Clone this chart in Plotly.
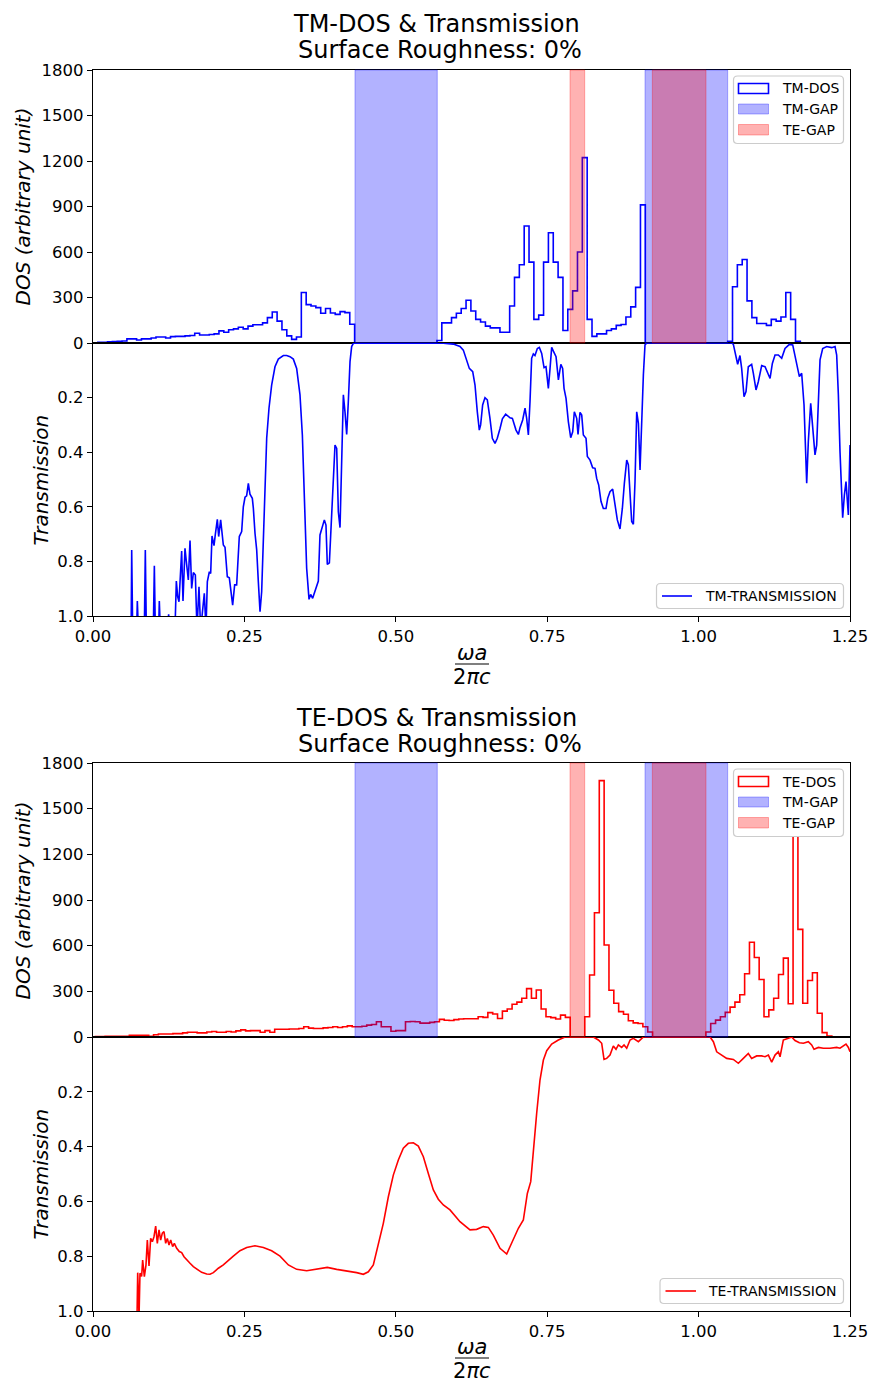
import numpy as np
import plotly.graph_objects as go

# ---------------- data ----------------
BIN_W = 0.008
TM_DOS_FIRST_EDGE = 0.008
TE_DOS_FIRST_EDGE = 0.004

TM_DOS = [5, 5, 8, 10, 12, 13, 27, 27, 20, 27,
          27, 33, 40, 40, 33, 42, 44, 44, 47, 49,
          64, 53, 53, 56, 60, 80, 71, 87, 93, 104,
          93, 111, 120, 120, 133, 167, 204, 144, 87, 47,
          24, 40, 333, 253, 244, 233, 196, 227, 198, 189,
          207, 200, 124,
          0, 0, 0, 0, 0, 0, 0, 0, 0, 0, 0, 0, 0, 0, 0, 0, 0,
          16, 133, 133, 167, 196, 227, 282, 211, 156, 138,
          111, 100, 100, 71, 71, 244, 433, 516, 771, 533,
          156, 184, 533, 727, 533, 433, 82, 222, 344, 600,
          1222, 156, 44, 60, 60, 82, 93, 116, 122, 171,
          238, 367, 911,
          0, 0, 0, 0, 0, 0, 0, 0, 0, 0, 0, 0, 0, 0, 0, 0, 0,
          11, 371, 516, 551, 278, 167, 129, 129, 116, 156,
          144, 171, 333, 156, 11]

TE_DOS = [3, 3, 4, 4, 5, 5, 5, 11, 11, 11,
          11, 5, 15, 20, 20, 20, 22, 22, 27, 31,
          31, 27, 27, 33, 36, 31, 31, 36, 33, 40,
          47, 40, 42, 42, 31, 42, 31, 51, 51, 51,
          53, 53, 56, 67, 58, 56, 56, 60, 62, 67,
          62, 67, 73, 67, 67, 71, 78, 82, 100, 67,
          67, 38, 42, 42, 100, 102, 100, 91, 91, 96,
          100, 116, 110, 108, 114, 118, 120, 120, 120, 133,
          129, 160, 151, 122, 170, 184, 215, 229, 255, 318,
          255, 309, 184, 133, 127, 118, 144, 129, 0, 0,
          0, 133, 407, 816, 1684, 604, 307, 222, 167, 149,
          107, 93, 89, 67, 33, 0, 0, 0, 0, 0,
          0, 0, 0, 0, 0, 0, 33, 89, 111, 133,
          162, 196, 229, 278, 416, 622, 522, 378, 133, 178,
          255, 411, 518, 218, 1650, 707, 222, 371, 422, 156,
          29, 7]

TM_GAPS = [(0.4326, 0.5685), (0.9115, 1.048)]
TE_GAPS = [(0.7877, 0.8119), (0.9236, 1.0122)]

TM_T_FREQ = [0.010, 0.0630, 0.0639, 0.0655, 0.0721, 0.0732, 0.0749, 0.0848, 0.0864, 0.0881,
             0.0996, 0.1013, 0.1029, 0.1084, 0.1095, 0.1112, 0.1227, 0.1249, 0.1271, 0.1354,
             0.1376, 0.1398, 0.1420, 0.1442, 0.1464, 0.1486, 0.1519, 0.1547, 0.1574, 0.1602,
             0.1629, 0.1657, 0.1690, 0.1717, 0.1750, 0.1778, 0.1838, 0.1866, 0.1888, 0.1921,
             0.1943, 0.1965, 0.1998, 0.2020, 0.2053, 0.2075, 0.2108, 0.2152, 0.2180, 0.2218,
             0.2251, 0.2306, 0.2339, 0.2372, 0.2416, 0.2455, 0.2482, 0.2510, 0.2537, 0.2565,
             0.2592, 0.2631, 0.2648, 0.2675, 0.2703, 0.2730, 0.2758, 0.2785, 0.2813, 0.2840,
             0.2868, 0.2906, 0.2950, 0.3005, 0.3060, 0.3143, 0.3198, 0.3253, 0.3308, 0.3363,
             0.3418, 0.3457, 0.3490, 0.3528, 0.3567, 0.3594, 0.3627, 0.3666, 0.3693, 0.3721,
             0.3748, 0.3787, 0.3820, 0.3847, 0.3869, 0.3903, 0.3941, 0.3969, 0.3996, 0.4024,
             0.4051, 0.4079, 0.4106, 0.4134, 0.4161, 0.4189, 0.4216, 0.4244, 0.4271, 0.4299,
             0.4500, 0.5000, 0.5500, 0.5785, 0.5950, 0.6060, 0.6115, 0.6170, 0.6214, 0.6270,
             0.6308, 0.6346, 0.6379, 0.6401, 0.6434, 0.6473, 0.6511, 0.6555, 0.6594, 0.6638,
             0.6676, 0.6721, 0.6760, 0.6814, 0.6886, 0.6925, 0.6952, 0.6985, 0.7024, 0.7051,
             0.7095, 0.7134, 0.7161, 0.7189, 0.7216, 0.7243, 0.7271, 0.7298, 0.7337, 0.7370,
             0.7409, 0.7448, 0.7480, 0.7519, 0.7547, 0.7574, 0.7602, 0.7646, 0.7685, 0.7725,
             0.7755, 0.7778, 0.7811, 0.7849, 0.7888, 0.7921, 0.7948, 0.7987, 0.8009, 0.8042,
             0.8070, 0.8097, 0.8141, 0.8163, 0.8207, 0.8251, 0.8290, 0.8317, 0.8350, 0.8389,
             0.8427, 0.8471, 0.8499, 0.8537, 0.8581, 0.8620, 0.8658, 0.8702, 0.8741, 0.8774,
             0.8813, 0.8840, 0.8868, 0.8895, 0.8923, 0.8950, 0.8978, 0.9006, 0.9033, 0.9060,
             0.9088, 0.9115, 0.9143, 1.0000, 1.0491, 1.0546, 1.0574, 1.0601, 1.0645, 1.0683,
             1.0711, 1.0750, 1.0783, 1.0821, 1.0876, 1.0904, 1.0948, 1.0986, 1.1042, 1.1097,
             1.1152, 1.1180, 1.1218, 1.1262, 1.1317, 1.1372, 1.1427, 1.1499, 1.1554, 1.1609,
             1.1664, 1.1702, 1.1741, 1.1785, 1.1812, 1.1851, 1.1884, 1.1922, 1.1950, 1.1977,
             1.2005, 1.2049, 1.2115, 1.2198, 1.2253, 1.2280, 1.2308, 1.2335, 1.2379, 1.2407,
             1.2434, 1.2473, 1.2500]
TM_T_VAL = [1.05, 1.05, 0.758, 1.05, 1.05, 0.945, 1.05, 1.05, 0.758, 1.05,
            1.05, 0.816, 1.05, 1.05, 0.945, 1.05, 1.05, 0.994, 1.05, 1.05,
            0.872, 0.929, 0.948, 0.825, 0.762, 0.945, 0.752, 0.813, 0.868, 0.724,
            0.899, 0.841, 0.850, 1.05, 0.893, 1.05, 0.917, 1.05, 0.874, 0.838,
            0.844, 0.707, 0.742, 0.701, 0.646, 0.709, 0.648, 0.740, 0.748, 0.856,
            0.860, 0.960, 0.886, 0.886, 0.709, 0.691, 0.600, 0.565, 0.560, 0.514,
            0.554, 0.569, 0.606, 0.697, 0.758, 0.874, 0.984, 0.911, 0.703, 0.496,
            0.349, 0.239, 0.154, 0.087, 0.059, 0.046, 0.046, 0.050, 0.059, 0.093,
            0.190, 0.337, 0.581, 0.825, 0.939, 0.921, 0.935, 0.905, 0.884, 0.872,
            0.703, 0.667, 0.648, 0.667, 0.811, 0.805, 0.606, 0.484, 0.374, 0.386,
            0.618, 0.676, 0.459, 0.190, 0.252, 0.335, 0.215, 0.068, 0.013, 0.001,
            0.000, 0.000, 0.0005, 0.001, 0.004, 0.013, 0.026, 0.062, 0.093, 0.105,
            0.154, 0.252, 0.319, 0.300, 0.227, 0.200, 0.208, 0.276, 0.349, 0.368,
            0.349, 0.313, 0.278, 0.261, 0.274, 0.276, 0.300, 0.319, 0.335, 0.310,
            0.282, 0.239, 0.276, 0.337, 0.215, 0.056, 0.040, 0.046, 0.020, 0.016,
            0.038, 0.090, 0.087, 0.166, 0.093, 0.016, 0.030, 0.050, 0.135, 0.078,
            0.093, 0.166, 0.203, 0.288, 0.347, 0.325, 0.252, 0.276, 0.335, 0.254,
            0.264, 0.337, 0.349, 0.416, 0.429, 0.457, 0.459, 0.496, 0.520, 0.581,
            0.606, 0.606, 0.569, 0.545, 0.535, 0.593, 0.648, 0.681, 0.606, 0.514,
            0.429, 0.446, 0.557, 0.654, 0.664, 0.508, 0.252, 0.294, 0.465, 0.276,
            0.117, 0.007, 0.000, 0.000, 0.000, 0.000, 0.005, 0.038, 0.078, 0.046,
            0.093, 0.197, 0.178, 0.087, 0.078, 0.111, 0.172, 0.142, 0.083, 0.087,
            0.117, 0.130, 0.075, 0.044, 0.044, 0.056, 0.020, 0.005, 0.007, 0.068,
            0.123, 0.111, 0.227, 0.514, 0.361, 0.221, 0.325, 0.410, 0.374, 0.227,
            0.062, 0.020, 0.013, 0.017, 0.013, 0.044, 0.190, 0.398, 0.640, 0.557,
            0.508, 0.630, 0.374]

TE_T_FREQ = [0.0725, 0.0738, 0.0760, 0.0776, 0.0803, 0.0820, 0.0848, 0.0875, 0.0897, 0.0925,
             0.0952, 0.0980, 0.1007, 0.1035, 0.1062, 0.1090, 0.1117, 0.1145, 0.1172, 0.1200,
             0.1227, 0.1255, 0.1283, 0.1315, 0.1343, 0.1382, 0.1425, 0.1464, 0.1503, 0.1547,
             0.1602, 0.1657, 0.1712, 0.1794, 0.1877, 0.1932, 0.1987, 0.2070, 0.2152, 0.2235,
             0.2317, 0.2427, 0.2538, 0.2675, 0.2813, 0.2950, 0.3088, 0.3226, 0.3363, 0.3528,
             0.3693, 0.3869, 0.4024, 0.4189, 0.4354, 0.4464, 0.4547, 0.4629, 0.4712, 0.4794,
             0.4877, 0.4959, 0.5042, 0.5124, 0.5207, 0.5290, 0.5372, 0.5455, 0.5537, 0.5620,
             0.5702, 0.5785, 0.5895, 0.6060, 0.6225, 0.6335, 0.6445, 0.6528, 0.6610, 0.6721,
             0.6831, 0.6914, 0.7024, 0.7106, 0.7172, 0.7228, 0.7271, 0.7326, 0.7381, 0.7437,
             0.7492, 0.7574, 0.7684, 0.7794, 0.8262, 0.8345, 0.8400, 0.8438, 0.8482, 0.8537,
             0.8592, 0.8636, 0.8675, 0.8730, 0.8769, 0.8813, 0.8868, 0.8923, 0.9006, 0.9088,
             1.0189, 1.0244, 1.0299, 1.0381, 1.0464, 1.0574, 1.0656, 1.0739, 1.0821, 1.0876,
             1.0959, 1.1042, 1.1097, 1.1152, 1.1207, 1.1262, 1.1317, 1.1345, 1.1399, 1.1482,
             1.1537, 1.1592, 1.1664, 1.1730, 1.1812, 1.1867, 1.1906, 1.1978, 1.2060, 1.2170,
             1.2280, 1.2335, 1.2390, 1.2434, 1.2473, 1.2500]
TE_T_VAL = [1.05, 0.860, 1.020, 0.862, 0.874, 0.814, 0.875, 0.832, 0.741, 0.836,
            0.735, 0.747, 0.729, 0.690, 0.753, 0.704, 0.741, 0.716, 0.710, 0.753,
            0.735, 0.759, 0.741, 0.765, 0.753, 0.771, 0.783, 0.787, 0.802, 0.814,
            0.826, 0.838, 0.847, 0.859, 0.865, 0.866, 0.860, 0.844, 0.832, 0.814,
            0.800, 0.780, 0.768, 0.762, 0.768, 0.780, 0.800, 0.832, 0.848, 0.853,
            0.847, 0.841, 0.848, 0.853, 0.860, 0.866, 0.857, 0.832, 0.753, 0.680,
            0.583, 0.504, 0.449, 0.406, 0.388, 0.386, 0.398, 0.437, 0.498, 0.558,
            0.592, 0.613, 0.631, 0.674, 0.704, 0.702, 0.692, 0.695, 0.723, 0.771,
            0.792, 0.753, 0.698, 0.668, 0.571, 0.528, 0.412, 0.279, 0.157, 0.084,
            0.050, 0.026, 0.011, 0.000, 0.000, 0.011, 0.023, 0.082, 0.078, 0.066,
            0.033, 0.045, 0.029, 0.038, 0.029, 0.041, 0.011, 0.005, 0.017, 0.000,
            0.000, 0.017, 0.054, 0.066, 0.078, 0.082, 0.096, 0.078, 0.060, 0.078,
            0.069, 0.069, 0.072, 0.066, 0.092, 0.066, 0.054, 0.072, 0.011, 0.005,
            0.000, 0.013, 0.021, 0.023, 0.017, 0.029, 0.045, 0.038, 0.041, 0.041,
            0.038, 0.041, 0.033, 0.026, 0.038, 0.054]

X_TICKS = [0.0, 0.25, 0.5, 0.75, 1.0, 1.25]
DOS_TICKS = [0, 300, 600, 900, 1200, 1500, 1800]
T_TICKS = [0.2, 0.4, 0.6, 0.8, 1.0]
T_TICK_TEXT = ["0.2", "0.4", "0.6", "0.8", "1.0"]

# ---------------- figure geometry ----------------
W, H = 873, 1383
ML, MR, MT, MB = 93, 23, 70, 72
PW, PH = W - ML - MR, H - MT - MB


def X(px):
    return (px - ML) / PW


def Y(py):
    return (H - MB - py) / PH


FONT = "DejaVu Sans"
BLUE = "#0000ff"
RED = "#ff0000"
TM_FILL = "rgba(0,0,255,0.3)"
TE_FILL = "rgba(255,0,0,0.3)"


def step_xy(first_edge, vals):
    edges = first_edge + BIN_W * np.arange(len(vals) + 1)
    xs = [edges[0]] + list(edges[:-1]) + [edges[-1], edges[-1]]
    ys = [0] + list(vals) + [vals[-1], 0]
    return xs, ys


fig = go.Figure()

tmx, tmy = step_xy(TM_DOS_FIRST_EDGE, TM_DOS)
tex, tey = step_xy(TE_DOS_FIRST_EDGE, TE_DOS)

fig.add_trace(go.Scatter(x=tmx, y=tmy, mode="lines", line=dict(color=BLUE, width=1.6, shape="hv"),
                         xaxis="x", yaxis="y", name="TM-DOS", showlegend=False))
fig.add_trace(go.Scatter(x=TM_T_FREQ, y=TM_T_VAL, mode="lines", line=dict(color=BLUE, width=1.6),
                         xaxis="x2", yaxis="y2", name="TM-TRANSMISSION", showlegend=False))
fig.add_trace(go.Scatter(x=tex, y=tey, mode="lines", line=dict(color=RED, width=1.6, shape="hv"),
                         xaxis="x3", yaxis="y3", name="TE-DOS", showlegend=False))
fig.add_trace(go.Scatter(x=TE_T_FREQ, y=TE_T_VAL, mode="lines", line=dict(color=RED, width=1.6),
                         xaxis="x4", yaxis="y4", name="TE-TRANSMISSION", showlegend=False))

# ---------------- axes ----------------
tickfont = dict(family=FONT, size=16.5, color="black")
base = dict(showline=True, linecolor="black", linewidth=1.2, mirror=True, showgrid=False,
            zeroline=False, ticks="outside", ticklen=5, tickwidth=1.1, tickcolor="black",
            tickfont=tickfont, automargin=False)

dom_top_dos = [Y(343), Y(70)]
dom_top_t = [Y(616), Y(343)]
dom_bot_dos = [Y(1037), Y(763)]
dom_bot_t = [0, Y(1037)]

layout_axes = {}
for i, (dd, dt) in enumerate([(dom_top_dos, dom_top_t), (dom_bot_dos, dom_bot_t)]):
    a = 2 * i + 1
    b = 2 * i + 2
    kx_a = "xaxis" if a == 1 else f"xaxis{a}"
    ky_a = "yaxis" if a == 1 else f"yaxis{a}"
    ya = "y" if a == 1 else f"y{a}"
    xa = "x" if a == 1 else f"x{a}"
    layout_axes[kx_a] = dict(base, domain=[0, 1], range=[0, 1.25], anchor=ya, ticks="",
                             showticklabels=False)
    layout_axes[ky_a] = dict(base, domain=dd, range=[0, 1800], anchor=xa, tickvals=DOS_TICKS)
    layout_axes[f"xaxis{b}"] = dict(base, domain=[0, 1], range=[0, 1.25], anchor=f"y{b}",
                                    tickvals=X_TICKS, tickformat=".2f")
    layout_axes[f"yaxis{b}"] = dict(base, domain=dt, range=[1, 0], anchor=f"x{b}",
                                    tickvals=T_TICKS, ticktext=T_TICK_TEXT)

fig.update_layout(**layout_axes)

# ---------------- gap bands ----------------
shapes = []
for xref, yref in [("x", "y domain"), ("x3", "y3 domain")]:
    for lo, hi in TM_GAPS:
        shapes.append(dict(type="rect", xref=xref, yref=yref, x0=lo, x1=hi, y0=0, y1=1,
                           fillcolor=TM_FILL, line=dict(color=TM_FILL, width=1), layer="above"))
    for lo, hi in TE_GAPS:
        shapes.append(dict(type="rect", xref=xref, yref=yref, x0=lo, x1=hi, y0=0, y1=1,
                           fillcolor=TE_FILL, line=dict(color=TE_FILL, width=1), layer="above"))


def rrect(x0, y0, x1, y1, r=4):
    rx, ry = r / PW, r / PH
    a0, a1 = X(x0), X(x1)
    b0, b1 = Y(y1), Y(y0)
    return (f"M {a0 + rx},{b0} L {a1 - rx},{b0} Q {a1},{b0} {a1},{b0 + ry} "
            f"L {a1},{b1 - ry} Q {a1},{b1} {a1 - rx},{b1} L {a0 + rx},{b1} "
            f"Q {a0},{b1} {a0},{b1 - ry} L {a0},{b0 + ry} Q {a0},{b0} {a0 + rx},{b0} Z")


def box(x0, y0, x1, y1):
    shapes.append(dict(type="path", xref="paper", yref="paper", path=rrect(x0, y0, x1, y1),
                       fillcolor="white", line=dict(color="#cccccc", width=1.2), layer="above"))


def patch(x0, y0, x1, y1, fill, edge, w=1):
    shapes.append(dict(type="rect", xref="paper", yref="paper", x0=X(x0), x1=X(x1),
                       y0=Y(y1), y1=Y(y0), fillcolor=fill, line=dict(color=edge, width=w),
                       layer="above"))


def hline(x0, x1, y, color, w):
    shapes.append(dict(type="line", xref="paper", yref="paper", x0=X(x0), x1=X(x1),
                       y0=Y(y), y1=Y(y), line=dict(color=color, width=w), layer="above"))


annotations = []


def text(px, py, s, size, xanchor="center", angle=0):
    annotations.append(dict(xref="paper", yref="paper", x=X(px), y=Y(py), text=s,
                            showarrow=False, xanchor=xanchor, yanchor="middle",
                            textangle=angle, font=dict(family=FONT, size=size, color="black")))


LEG_FS = 14
for off, (dos_name, dos_col) in zip([0, 693], [("TM-DOS", BLUE), ("TE-DOS", RED)]):
    box(733.5, 76 + off, 843.5, 143.5 + off)
    patch(738.5, 83.5 + off, 768.5, 93.5 + off, "white", dos_col, 1.6)
    patch(738.5, 104 + off, 768.5, 114 + off, TM_FILL, TM_FILL, 1)
    patch(738.5, 124.5 + off, 768.5, 135 + off, TE_FILL, TE_FILL, 1)
    text(780, 88.5 + off, dos_name, LEG_FS, xanchor="left")
    text(780, 109 + off, "TM-GAP", LEG_FS, xanchor="left")
    text(780, 130 + off, "TE-GAP", LEG_FS, xanchor="left")

box(656.5, 583.5, 843.5, 608.5)
hline(662, 692, 596, BLUE, 1.6)
text(703, 596, "TM-TRANSMISSION", LEG_FS, xanchor="left")
box(660, 1278.5, 843.5, 1303.5)
hline(665.5, 696, 1291, RED, 1.6)
text(706, 1291, "TE-TRANSMISSION", LEG_FS, xanchor="left")

for off, name in zip([0, 694], ["TM-DOS & Transmission", "TE-DOS & Transmission"]):
    text(436, 24 + off, name, 24)
    text(440, 50 + off, "Surface Roughness: 0%", 24)
    text(22, 206.5 + off, "<i>DOS (arbitrary unit)</i>", 20, angle=-90)
    text(40, 479.5 + off, "<i>Transmission</i>", 20, angle=-90)
    text(472, 653 + off, "<i>ωa</i>", 21)
    hline(455, 489, 664 + off, "black", 1.1)
    text(472, 677 + off, "2<i>πc</i>", 21)

fig.update_layout(width=W, height=H, margin=dict(l=ML, r=MR, t=MT, b=MB, autoexpand=False),
                  paper_bgcolor="white", plot_bgcolor="white", showlegend=False,
                  shapes=shapes, annotations=annotations,
                  font=dict(family=FONT, color="black"))

fig.write_html("out.html",
               config={"displayModeBar": False, "responsive": False},
               post_script="document.body.style.margin='0';document.body.style.overflow='hidden';")
